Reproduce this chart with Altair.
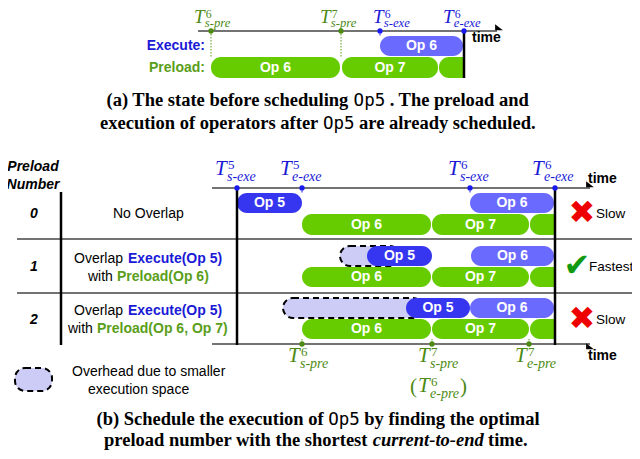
import altair as alt
import pandas as pd

# ---------------- data ----------------
# Panel (a): state before scheduling Op5 (time units)
a_exec_ops = ["Op 6"]
a_exec_start = [380]
a_exec_end = [463]
a_pre_ops = ["Op 6", "Op 7", ""]
a_pre_start = [211, 342, 439]
a_pre_end = [340, 438, 463]
a_marks_pre = [211, 341]          # T^6_s-pre, T^7_s-pre
a_marks_exe = [380, 464]          # T^6_s-exe, T^6_e-exe

# Panel (b): three candidate preload numbers
b_rows = ["0", "1", "2"]
b_desc_plain = ["No Overlap", "Overlap ", "Overlap "]
b_desc_exec = ["", "Execute(Op 5)", "Execute(Op 5)"]
b_desc_pre = ["", "Preload(Op 6)", "Preload(Op 6, Op 7)"]
b_op5_start = [237, 367, 406]
b_op5_end = [302, 432, 470]
b_over_start = [None, 340, 283]
b_over_end = [None, 400, 423]
b_op6_start = [470, 471, 470]
b_op6_end = [554, 554, 554]
b_pre_ops = ["Op 6", "Op 7", ""]
b_pre_start = [302, 432, 530]
b_pre_end = [431, 529, 554]
b_verdict = ["Slow", "Fastest", "Slow"]
b_marks_exe = [237, 302, 470, 555]
b_marks_pre = [302, 432, 529]

# ---------------- layout / style ----------------
XS = alt.Scale(domain=[8, 632], nice=False, zero=False)
YS = alt.Scale(domain=[8, 451], nice=False, zero=False, reverse=True)
GREEN = "#66cc00"
OP5 = "#3636f0"
OP6 = "#6a6aff"
OVER = "#ccccf7"
LBLUE = "#1a1ad6"
LGREEN = "#4d8a14"
TGREEN = "#5a9e1a"

a_exec_y = (36, 56)
a_pre_y = (57, 78)
b_exec_y = [(193, 213), (246, 266), (298, 318)]
b_pre_y = [(214, 235), (267, 287), (319, 339)]


def rect_layer(rows, **kw):
    return alt.Chart(pd.DataFrame(rows)).mark_bar(**kw).encode(
        x=alt.X("x0:Q", scale=XS, axis=None), x2="x1:Q",
        y=alt.Y("y0:Q", scale=YS, axis=None), y2="y1:Q")


def rule_layer(rows, **kw):
    return alt.Chart(pd.DataFrame(rows)).mark_rule(**kw).encode(
        x=alt.X("x0:Q", scale=XS, axis=None), x2="x1:Q",
        y=alt.Y("y0:Q", scale=YS, axis=None), y2="y1:Q")


def text_layer(rows, **kw):
    return alt.Chart(pd.DataFrame(rows)).mark_text(**kw).encode(
        x=alt.X("x:Q", scale=XS, axis=None),
        y=alt.Y("y:Q", scale=YS, axis=None),
        text="t:N",
        color=alt.Color("c:N", scale=None),
        size=alt.Size("s:Q", scale=None))


def point_layer(rows, **kw):
    return alt.Chart(pd.DataFrame(rows)).mark_circle(opacity=1, **kw).encode(
        x=alt.X("x:Q", scale=XS, axis=None),
        y=alt.Y("y:Q", scale=YS, axis=None),
        color=alt.Color("c:N", scale=None))


layers = []

# ---------- bars ----------
green_round, green_tail, labels_white = [], [], []
for s, e, op in zip(a_pre_start, a_pre_end, a_pre_ops):
    (green_round if op else green_tail).append(dict(x0=s, x1=e, y0=a_pre_y[0], y1=a_pre_y[1]))
    if op:
        labels_white.append(dict(x=(s + e) / 2, y=sum(a_pre_y) / 2, t=op, c="white", s=14))
for r in range(3):
    for s, e, op in zip(b_pre_start, b_pre_end, b_pre_ops):
        (green_round if op else green_tail).append(dict(x0=s, x1=e, y0=b_pre_y[r][0], y1=b_pre_y[r][1]))
        if op:
            labels_white.append(dict(x=(s + e) / 2, y=sum(b_pre_y[r]) / 2, t=op, c="white", s=14))

over_rows = []
for r in range(3):
    if b_over_start[r] is not None:
        over_rows.append(dict(x0=b_over_start[r], x1=b_over_end[r], y0=b_exec_y[r][0], y1=b_exec_y[r][1]))
over_rows.append(dict(x0=15, x1=52, y0=368, y1=391))  # legend swatch

op5_rows, op6_rows = [], []
for r in range(3):
    op5_rows.append(dict(x0=b_op5_start[r], x1=b_op5_end[r], y0=b_exec_y[r][0], y1=b_exec_y[r][1]))
    labels_white.append(dict(x=(b_op5_start[r] + b_op5_end[r]) / 2, y=sum(b_exec_y[r]) / 2, t="Op 5", c="white", s=14))
    op6_rows.append(dict(x0=b_op6_start[r], x1=b_op6_end[r], y0=b_exec_y[r][0], y1=b_exec_y[r][1]))
    labels_white.append(dict(x=(b_op6_start[r] + b_op6_end[r]) / 2, y=sum(b_exec_y[r]) / 2, t="Op 6", c="white", s=14))
for s, e, op in zip(a_exec_start, a_exec_end, a_exec_ops):
    op6_rows.append(dict(x0=s, x1=e, y0=a_exec_y[0], y1=a_exec_y[1]))
    labels_white.append(dict(x=(s + e) / 2, y=sum(a_exec_y) / 2, t=op, c="white", s=14))

# ---------- grid lines / axes ----------
gray_lines = [
    dict(x0=198, x1=497, y0=31, y1=31),
    dict(x0=212, x1=590, y0=188, y1=188),
    dict(x0=212, x1=590, y0=344, y1=344),
    dict(x0=17, x1=632, y0=239, y1=239),
    dict(x0=17, x1=632, y0=293, y1=293),
]
layers.append(rule_layer(gray_lines, color="#444444", strokeWidth=1.5))

# dotted drops
dots_g = [dict(x0=x, x1=x, y0=31, y1=57) for x in a_marks_pre]
dots_g += [dict(x0=x, x1=x, y0=339, y1=344) for x in b_marks_pre]
dots_b = [dict(x0=a_marks_exe[0], x1=a_marks_exe[0], y0=31, y1=36)]
dots_b += [dict(x0=x, x1=x, y0=188, y1=193) for x in (b_marks_exe[1], b_marks_exe[2])]
layers.append(rule_layer(dots_g, color=TGREEN, strokeWidth=1, strokeDash=[1.5, 1.5]))
layers.append(rule_layer(dots_b, color="#2222ee", strokeWidth=1, strokeDash=[1.5, 1.5]))

layers.append(rect_layer(green_round, color=GREEN, cornerRadius=10))
layers.append(rect_layer(green_tail, color=GREEN, cornerRadiusTopLeft=10, cornerRadiusBottomLeft=10))
layers.append(rect_layer(over_rows, color=OVER, cornerRadius=10, stroke="black", strokeWidth=2, strokeDash=[6, 4]))
layers.append(rect_layer(op5_rows, color=OP5, cornerRadius=10))
layers.append(rect_layer(op6_rows, color=OP6, cornerRadius=10))
layers.append(text_layer(labels_white, font="Liberation Sans", fontWeight="bold", baseline="middle", align="center"))

# thick black lines
black_lines = [
    dict(x0=464, x1=464, y0=31, y1=78),
    dict(x0=237, x1=237, y0=188, y1=345),
    dict(x0=555, x1=555, y0=188, y1=345),
    dict(x0=61, x1=61, y0=192, y1=345),
]
layers.append(rule_layer(black_lines, color="black", strokeWidth=2.5))

# axis dots
pts = [dict(x=x, y=31, c=LGREEN) for x in a_marks_pre]
pts += [dict(x=x, y=31, c="#1a1af0") for x in a_marks_exe]
pts += [dict(x=x, y=188, c="#1a1af0") for x in b_marks_exe]
pts += [dict(x=x, y=344, c=LGREEN) for x in b_marks_pre]
layers.append(point_layer(pts, size=28))

# arrowheads
arrows = [dict(x=499, y=28), dict(x=590, y=185), dict(x=590, y=347)]
layers.append(alt.Chart(pd.DataFrame(arrows)).mark_point(
    shape="M -1 -1 L 1 0.6 L -1 0.6 Z", filled=True, color="black", opacity=1, size=60).encode(
    x=alt.X("x:Q", scale=XS, axis=None), y=alt.Y("y:Q", scale=YS, axis=None)))

# ---------- T labels ----------
# (T left x, T baseline, superscript, subscript, color, T size)
t_labels = [
    (194, 23, "6", "s-pre", LGREEN, 19), (320, 23, "7", "s-pre", LGREEN, 19),
    (373, 23, "6", "s-exe", LBLUE, 19), (443, 23, "6", "e-exe", LBLUE, 19),
    (215, 175, "5", "s-exe", LBLUE, 21), (280, 175, "5", "e-exe", LBLUE, 21),
    (448, 175, "6", "s-exe", LBLUE, 21), (532, 175, "6", "e-exe", LBLUE, 21),
    (288, 362, "6", "s-pre", LGREEN, 21), (418, 362, "7", "s-pre", LGREEN, 21),
    (515, 362, "7", "e-pre", LGREEN, 21), (418, 392, "6", "e-pre", LGREEN, 21),
]
t_ital, t_up = [], []
for tx, ty, sup, sub, col, ts in t_labels:
    k = ts / 21
    t_ital.append(dict(x=tx, y=ty, t="T", c=col, s=ts))
    t_ital.append(dict(x=tx + 12 * k, y=ty + 6 * k - (1 if ts < 21 else 0), t=sub, c=col, s=14 * k))
    t_up.append(dict(x=tx + 13 * k, y=ty - 6 * k, t=sup, c=col, s=13 * k))
t_up.append(dict(x=410, y=393, t="(", c=LGREEN, s=21))
t_up.append(dict(x=460, y=393, t=")", c=LGREEN, s=21))
layers.append(text_layer(t_ital, font="Liberation Serif", fontStyle="italic", align="left", baseline="alphabetic"))
layers.append(text_layer(t_up, font="Liberation Serif", align="left", baseline="alphabetic"))

# ---------- labels ----------
bold_rows = [
    dict(x=205, y=50, t="Execute:", c=LBLUE, s=14),
    dict(x=205, y=72, t="Preload:", c=TGREEN, s=14),
]
layers.append(text_layer(bold_rows, font="Liberation Sans", fontWeight="bold", align="right", baseline="alphabetic"))

time_rows = [dict(x=472, y=42, t="time", c="black", s=14),
             dict(x=588, y=183, t="time", c="black", s=14),
             dict(x=588, y=360, t="time", c="black", s=14)]
layers.append(text_layer(time_rows, font="Liberation Sans", fontWeight="bold", align="left", baseline="alphabetic"))

bi_rows = [dict(x=33, y=171, t="Preload", c="black", s=14),
           dict(x=33, y=189, t="Number", c="black", s=14)]
row_base = [218, 271, 324]
for r, lab in enumerate(b_rows):
    bi_rows.append(dict(x=34, y=row_base[r], t=lab, c="black", s=14))
layers.append(text_layer(bi_rows, font="Liberation Sans", fontWeight="bold", fontStyle="italic", align="center", baseline="alphabetic"))

plain_rows = [dict(x=113, y=218, t=b_desc_plain[0], c="black", s=14)]
plain_rows += [dict(x=74, y=263, t=b_desc_plain[1], c="black", s=14),
               dict(x=88, y=281, t="with ", c="black", s=14),
               dict(x=74, y=315, t=b_desc_plain[2], c="black", s=14),
               dict(x=68, y=333, t="with ", c="black", s=14)]
verdict_x = [596, 589, 596]
plain_rows += [dict(x=verdict_x[r], y=row_base[r], t=b_verdict[r], c="black", s=13.5) for r in range(3)]
plain_rows += [dict(x=72, y=376, t="Overhead due to smaller", c="black", s=14),
               dict(x=88, y=394, t="execution space", c="black", s=14)]
layers.append(text_layer(plain_rows, font="Liberation Sans", align="left", baseline="alphabetic"))

desc_bold = [dict(x=128, y=263, t=b_desc_exec[1], c=LBLUE, s=14),
             dict(x=117, y=281, t=b_desc_pre[1], c=TGREEN, s=14),
             dict(x=128, y=315, t=b_desc_exec[2], c=LBLUE, s=14),
             dict(x=97, y=333, t=b_desc_pre[2], c=TGREEN, s=14)]
layers.append(text_layer(desc_bold, font="Liberation Sans", fontWeight="bold", align="left", baseline="alphabetic"))

sym_rows = [dict(x=582, y=213, t="✖", c="#ee0000", s=32),
            dict(x=577, y=266, t="✔", c="#119911", s=32),
            dict(x=582, y=319, t="✖", c="#ee0000", s=32)]
layers.append(text_layer(sym_rows, font="DejaVu Sans", align="center", baseline="middle"))

# ---------- captions ----------
CS = 18.5
cap_serif = [
    dict(x=106.5, y=106, t="(a) The state before scheduling", c="black", s=CS),
    dict(x=389.7, y=106, t=". The preload and", c="black", s=CS),
    dict(x=100, y=129, t="execution of operators after", c="black", s=CS),
    dict(x=359, y=129, t="are already scheduled.", c="black", s=CS),
    dict(x=96.5, y=425, t="(b) Schedule the execution of", c="black", s=CS),
    dict(x=364.3, y=425, t="by finding the optimal", c="black", s=CS),
    dict(x=104, y=446, t="preload number with the shortest", c="black", s=CS),
    dict(x=488, y=446, t="time.", c="black", s=CS),
]
layers.append(text_layer(cap_serif, font="Liberation Serif", fontWeight="bold", align="left", baseline="alphabetic"))
cap_ital = [dict(x=372.7, y=446, t="current-to-end", c="black", s=CS)]
layers.append(text_layer(cap_ital, font="Liberation Serif", fontWeight="bold", fontStyle="italic", align="left", baseline="alphabetic"))
cap_mono = [dict(x=353.6, y=106, t="Op5", c="black", s=17.5),
            dict(x=322.9, y=129, t="Op5", c="black", s=17.5),
            dict(x=328.2, y=425, t="Op5", c="black", s=17.5)]
layers.append(text_layer(cap_mono, font="DejaVu Sans Mono", align="left", baseline="alphabetic"))

chart = alt.layer(*layers).properties(
    width=624, height=443, padding=0,
    autosize=alt.AutoSizeParams(type="none")).configure_view(stroke=None)
chart.save("out.html", embed_options={"renderer": "svg", "actions": False})
